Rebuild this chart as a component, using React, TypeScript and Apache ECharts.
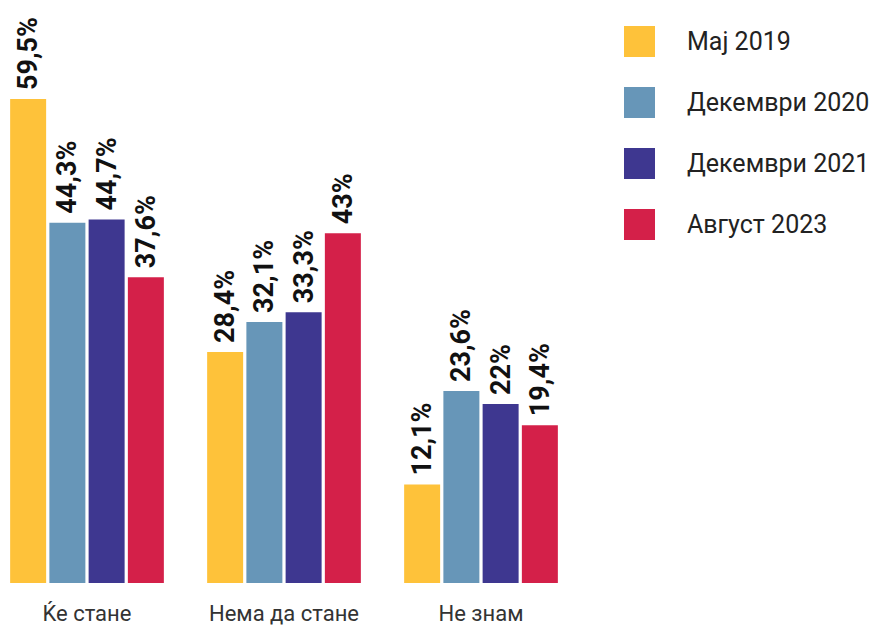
import React, { useEffect, useRef } from "react";
import * as echarts from "echarts";

const categories = ["Ќе стане", "Нема да стане", "Не знам"];
const seriesNames = ["Мај 2019", "Декември 2020", "Декември 2021", "Август 2023"];
const may2019 = [59.5, 28.4, 12.1];
const dec2020 = [44.3, 32.1, 23.6];
const dec2021 = [44.7, 33.3, 22];
const aug2023 = [37.6, 43, 19.4];
const colors = ["#FEC23A", "#6796B8", "#3E3790", "#D42049"];

const SHIFT = 20;

export default function App() {
  const ref = useRef<HTMLDivElement>(null);
  useEffect(() => {
    if (!ref.current) return;
    const chart = echarts.init(ref.current, null, { renderer: "svg" });
    const data = [may2019, dec2020, dec2021, aug2023];
    chart.setOption({
      animation: false,
      grid: { left: SHIFT - 11.5, width: 591, top: 13.6, bottom: 43 },
      legend: {
        orient: "vertical",
        left: 619 + SHIFT,
        top: 21,
        itemWidth: 31,
        itemHeight: 31,
        itemGap: 30,
        icon: "rect",
        data: seriesNames,
        textStyle: {
          fontFamily: "Roboto",
          fontSize: 25,
          color: "#222",
          padding: [0, 0, 0, 27],
        },
      },
      xAxis: {
        type: "category",
        data: categories,
        axisLine: { show: false },
        axisTick: { show: false },
        axisLabel: {
          fontFamily: "Roboto",
          fontSize: 22,
          color: "#333",
          margin: 19,
        },
      },
      yAxis: {
        type: "value",
        min: 0,
        max: 70,
        show: false,
        splitLine: { show: false },
      },
      series: seriesNames.map((name, i) => ({
        name,
        type: "bar",
        data: data[i],
        barWidth: 36,
        barGap: "9%",
        itemStyle: { color: colors[i] },
        label: {
          show: true,
          position: "top",
          rotate: 90,
          align: "left",
          verticalAlign: "middle",
          distance: 9,
          fontFamily: "Roboto",
          fontWeight: "bold",
          fontSize: 27,
          color: "#111",
          formatter: (p: any) => String(p.value).replace(".", ",") + "%",
        },
      })),
    });
    return () => chart.dispose();
  }, []);
  return (
    <div
      ref={ref}
      style={{ position: "absolute", left: -SHIFT, top: 0, width: 875 + SHIFT, height: 626 }}
    />
  );
}
